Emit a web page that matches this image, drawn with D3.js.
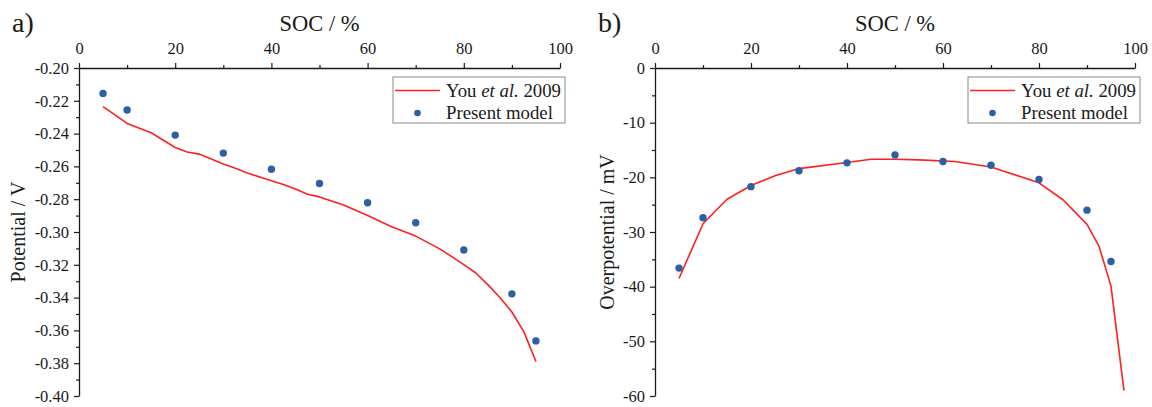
<!DOCTYPE html>
<html>
<head>
<meta charset="utf-8">
<script src="https://cdn.jsdelivr.net/npm/d3@7"></script>
<style>
  html, body { margin: 0; padding: 0; background: #fff; }
  svg { display: block; }
  svg text { font-family: "Liberation Serif", "Times New Roman", serif !important; }
</style>
</head>
<body>
<svg id="chart" width="1152" height="407"></svg>
<script>
// State of charge ticks shared by both panels
const socTicks = [0, 20, 40, 60, 80, 100];
const socMinorTicks = [10, 30, 50, 70, 90];

// Present model: discrete SOC points
const modelSOC = [5, 10, 20, 30, 40, 50, 60, 70, 80, 90, 95];
const modelPotential = [-0.2155, -0.2256, -0.2409, -0.2519, -0.2617, -0.2704, -0.2822, -0.2944, -0.3110, -0.3377, -0.3664];
const modelOverpotential = [-36.6, -27.4, -21.7, -18.8, -17.35, -15.9, -17.1, -17.8, -20.4, -26.0, -35.4];

// You et al. 2009 reference curves
const youSOCPotential = [5, 10, 15, 20, 22.5, 25, 30, 32.5, 35, 40, 42.5, 45, 47.5, 50, 55, 60, 65, 70, 75, 77.5, 80, 82.5, 85, 87.5, 90, 92.5, 95];
const youPotential = [-0.2235, -0.2338, -0.2395, -0.2485, -0.2512, -0.2525, -0.2585, -0.2612, -0.2640, -0.2688, -0.2710, -0.2738, -0.2770, -0.2786, -0.2836, -0.2900, -0.2968, -0.3025, -0.3103, -0.3150, -0.3199, -0.3250, -0.3321, -0.3399, -0.3488, -0.3609, -0.3790];
const youSOCOverpotential = [5, 10, 15, 20, 25, 30, 40, 45, 50, 55, 62.5, 70, 80, 85, 90, 92.5, 95, 97.7];
const youOverpotential = [-38.5, -28.5, -24.0, -21.5, -19.7, -18.4, -17.3, -16.7, -16.7, -16.8, -17.1, -18.1, -21.0, -24.1, -28.6, -32.6, -39.9, -59.0];

// Axis ticks for each panel
const potentialTicks = [-0.20, -0.22, -0.24, -0.26, -0.28, -0.30, -0.32, -0.34, -0.36, -0.38, -0.40];
const potentialMinorTicks = [-0.21, -0.23, -0.25, -0.27, -0.29, -0.31, -0.33, -0.35, -0.37, -0.39];
const overpotentialTicks = [0, -10, -20, -30, -40, -50, -60];
const overpotentialMinorTicks = [-5, -15, -25, -35, -45, -55];

const legendLabels = ["You et al. 2009", "Present model"];

const RED = "#ff1f1f";
const BLUE = "#2b5fa6";
const INK = "#1a1a1a";
const SERIF = '"Liberation Serif", "Times New Roman", serif';

const svg = d3.select("#chart").attr("font-family", SERIF);

function drawPanel(opt) {
  const x = d3.scaleLinear().domain([0, 100]).range([opt.left, opt.right]);
  const y = d3.scaleLinear().domain(opt.yDomain).range([opt.top, opt.bottom]);
  const g = svg.append("g");

  // top x axis: major + minor ticks
  g.append("g").attr("transform", `translate(0,${opt.top})`)
    .call(d3.axisTop(x).tickValues(socTicks).tickSizeInner(5).tickSizeOuter(0).tickPadding(9).tickFormat(d3.format("d")));
  g.append("g").attr("transform", `translate(0,${opt.top})`)
    .call(d3.axisTop(x).tickValues(socMinorTicks).tickSizeInner(3).tickSizeOuter(0).tickFormat(""))
    .select(".domain").remove();

  // left y axis: major + minor ticks
  g.append("g").attr("transform", `translate(${opt.left},0)`)
    .call(d3.axisLeft(y).tickValues(opt.yTicks).tickSizeInner(5).tickSizeOuter(0).tickPadding(5).tickFormat(opt.yFormat));
  g.append("g").attr("transform", `translate(${opt.left},0)`)
    .call(d3.axisLeft(y).tickValues(opt.yMinor).tickSizeInner(3).tickSizeOuter(0).tickFormat(""))
    .select(".domain").remove();

  g.selectAll("g").attr("font-family", SERIF);
  g.selectAll(".domain").attr("stroke", INK).attr("stroke-width", 1.3);
  g.selectAll(".tick line").attr("stroke", INK).attr("stroke-width", 1.2);
  g.selectAll(".tick text").attr("fill", INK).attr("font-size", 16.5).style("font-size", "16.5px");

  // axis titles
  g.append("text").attr("x", (opt.left + opt.right) / 2).attr("y", 31)
    .attr("text-anchor", "middle").attr("fill", INK).style("font-size", "22.5px").text("SOC / %");
  g.append("text")
    .attr("transform", `translate(${opt.yTitleX},${(opt.top + opt.bottom) / 2}) rotate(-90)`)
    .attr("text-anchor", "middle").attr("dominant-baseline", "central")
    .attr("fill", INK).style("font-size", "20px").text(opt.yTitle);

  // panel tag
  g.append("text").attr("x", opt.tagX).attr("y", 32).attr("fill", INK)
    .style("font-size", "28px").text(opt.tag);

  // reference curve
  const lineData = opt.lineX.map((d, i) => [d, opt.lineY[i]]);
  g.append("path").datum(lineData)
    .attr("fill", "none").attr("stroke", RED).attr("stroke-width", 1.6)
    .attr("stroke-linejoin", "round")
    .attr("d", d3.line().x(d => x(d[0])).y(d => y(d[1])));

  // model points
  g.selectAll("circle.pt").data(modelSOC.map((d, i) => [d, opt.pointsY[i]]))
    .join("circle").attr("class", "pt")
    .attr("cx", d => x(d[0])).attr("cy", d => y(d[1])).attr("r", 3.7).attr("fill", BLUE);

  // legend
  const lx = opt.right - 167, ly = opt.top + 9, lw = 172, lh = 46;
  const leg = g.append("g");
  leg.append("rect").attr("x", lx).attr("y", ly).attr("width", lw).attr("height", lh)
    .attr("fill", "#fff").attr("stroke", "#8a8a8a").attr("stroke-width", 1);
  leg.append("line").attr("x1", lx + 2).attr("x2", lx + 47)
    .attr("y1", ly + 13.5).attr("y2", ly + 13.5).attr("stroke", RED).attr("stroke-width", 1.6);
  const t1 = leg.append("text").attr("x", lx + 53).attr("y", ly + 20)
    .attr("fill", INK).style("font-size", "18.8px");
  const parts = legendLabels[0].split(" ");
  t1.append("tspan").text(parts[0] + " ");
  t1.append("tspan").style("font-style", "italic").text(parts[1] + " " + parts[2]);
  t1.append("tspan").text(" " + parts[3]);
  leg.append("circle").attr("cx", lx + 24.5).attr("cy", ly + 36).attr("r", 3.3).attr("fill", BLUE);
  leg.append("text").attr("x", lx + 53).attr("y", ly + 42)
    .attr("fill", INK).style("font-size", "18.8px").text(legendLabels[1]);
}

drawPanel({
  left: 79, right: 560, top: 68, bottom: 396,
  yDomain: [-0.20, -0.40], yTicks: potentialTicks, yMinor: potentialMinorTicks,
  yFormat: d3.format(".2f"), yTitle: "Potential / V", yTitleX: 18,
  tag: "a)", tagX: 12,
  lineX: youSOCPotential, lineY: youPotential, pointsY: modelPotential
});

drawPanel({
  left: 655, right: 1135, top: 68, bottom: 396,
  yDomain: [0, -60], yTicks: overpotentialTicks, yMinor: overpotentialMinorTicks,
  yFormat: d3.format("d"), yTitle: "Overpotential / mV", yTitleX: 607,
  tag: "b)", tagX: 598,
  lineX: youSOCOverpotential, lineY: youOverpotential, pointsY: modelOverpotential
});

// render minus signs as plain hyphens
svg.selectAll(".tick text").each(function () {
  const s = d3.select(this);
  s.text(s.text().replace("\u2212", "-"));
});
</script>
</body>
</html>
